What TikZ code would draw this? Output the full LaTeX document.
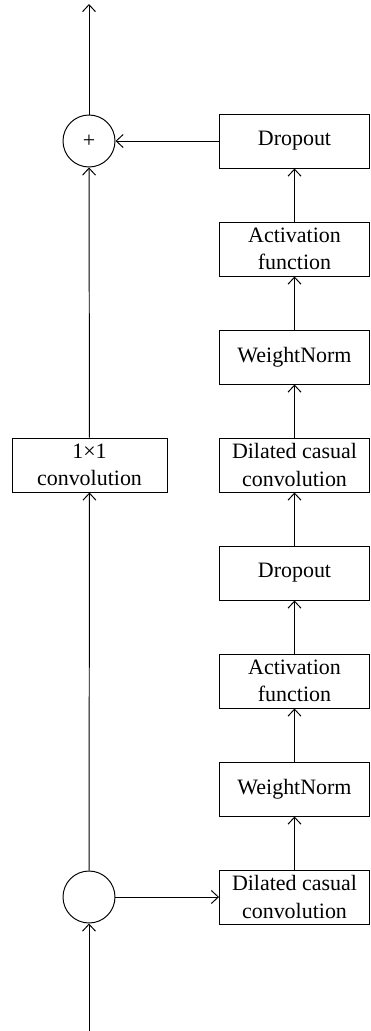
\documentclass[tikz,border=0pt]{standalone}
\usepackage{fontspec}
\setmainfont{Liberation Serif}
\usepackage{tikz}
\usetikzlibrary{positioning,arrows.meta}

\tikzset{
  blk/.style={draw, line width=0.55pt, minimum width=3cm, minimum height=1.08cm,
    align=center, inner sep=1pt, font=\fontsize{12.5}{15.5}\selectfont},
  joint/.style={draw, circle, line width=0.55pt, minimum size=1.04cm, inner sep=0pt,
    font=\fontsize{12.5}{15}\selectfont},
  link/.style={line width=0.55pt, -{Straight Barb[length=1.4mm,width=2.6mm]}}
}

\begin{document}
\begin{tikzpicture}[x=0.02cm, y=-0.02cm]
  % page frame: 370 x 1031 px, y counted downwards
  \useasboundingbox (0,0) rectangle (370,1031);
  % skip path (left column)
  \coordinate (in) at (89,1031);
  \coordinate (out) at (89,4);
  \node[joint] (split) at (89,897) {};
  \node[blk, minimum width=3.1cm] (conv) at (89.5,465) {1×1\\convolution};
  \node[joint] (sum) at (89,141) {+};
  % residual block (right column), rows 108 px apart
  \node[blk] (dcc1) at (294.5,897) {Dilated casual\\convolution};
  \node[blk] (wn1) at (294.5,789) {WeightNorm};
  \node[blk] (act1) at (294.5,681) {Activation\\function};
  \node[blk] (drop1) at (294.5,573) {Dropout};
  \node[blk] (dcc2) at (294.5,465) {Dilated casual\\convolution};
  \node[blk] (wn2) at (294.5,357) {WeightNorm};
  \node[blk] (act2) at (294.5,249) {Activation\\function};
  \node[blk] (drop2) at (294.5,141) {Dropout};
  % connectors
  \draw[link] (in) -- (split);
  \draw[link] (split) -- (dcc1);
  \draw[link] (split) -- (conv);
  \draw[link] (conv) -- (sum);
  \foreach \a/\b in {dcc1/wn1, wn1/act1, act1/drop1, drop1/dcc2, dcc2/wn2, wn2/act2, act2/drop2} {
    \draw[link] (\a) -- (\b);
  }
  \draw[link] (drop2) -- (sum);
  \draw[link] (sum) -- (out);
\end{tikzpicture}
\end{document}
